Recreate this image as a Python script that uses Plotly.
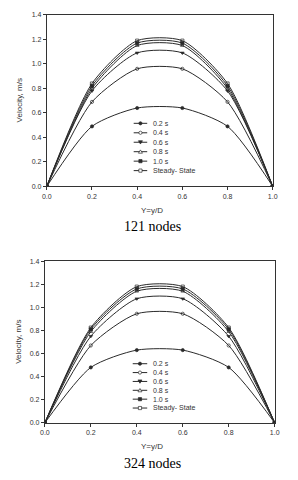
import plotly.graph_objects as go

# page body has an 8px default margin; figure is sized to fill the rest
OFF = 8
W, H = 298 - OFF, 480 - OFF

# ---------------- data ----------------
x_pos = [0.0, 0.2, 0.4, 0.6, 0.8, 1.0]
series_names = ["0.2 s", "0.4 s", "0.6 s", "0.8 s", "1.0 s", "Steady- State"]

# 121 nodes
n121_02 = [0, 0.49, 0.64, 0.64, 0.49, 0]
n121_04 = [0, 0.69, 0.96, 0.96, 0.69, 0]
n121_06 = [0, 0.78, 1.09, 1.09, 0.78, 0]
n121_08 = [0, 0.80, 1.15, 1.15, 0.80, 0]
n121_10 = [0, 0.82, 1.17, 1.17, 0.82, 0]
n121_ss = [0, 0.84, 1.19, 1.19, 0.84, 0]

# 324 nodes
n324_02 = [0, 0.48, 0.63, 0.63, 0.48, 0]
n324_04 = [0, 0.67, 0.945, 0.945, 0.67, 0]
n324_06 = [0, 0.75, 1.075, 1.075, 0.75, 0]
n324_08 = [0, 0.79, 1.14, 1.14, 0.79, 0]
n324_10 = [0, 0.81, 1.16, 1.16, 0.81, 0]
n324_ss = [0, 0.825, 1.18, 1.18, 0.825, 0]

x_ticks = [0.0, 0.2, 0.4, 0.6, 0.8, 1.0]
x_ticklabels = ["0.0", "0.2", "0.4", "0.6", "0.8", "1.0"]
y_ticks = [0.0, 0.2, 0.4, 0.6, 0.8, 1.0, 1.2, 1.4]
y_ticklabels = ["0.0", "0.2", "0.4", "0.6", "0.8", "1.0", "1.2", "1.4"]
captions = ["121 nodes", "324 nodes"]
x_title = "Y=y/D"
y_title = "Velocity, m/s"

# ---------------- styles ----------------
symbols = ["circle", "circle-open", "triangle-down", "triangle-up-open", "square", "square-open"]
LINE = "#2a2a2a"
TXT = "#333333"
FONT = "Liberation Sans, Arial, sans-serif"

def px_x(p):
    return (p - OFF) / W

def px_y(p):
    return 1 - (p - OFF) / H

# plot boxes in window pixels (left, right, top, bottom)
boxes = [(43, 277, 11, 185), (41, 279, 261, 425)]

fig = go.Figure()
groups = [
    [n121_02, n121_04, n121_06, n121_08, n121_10, n121_ss],
    [n324_02, n324_04, n324_06, n324_08, n324_10, n324_ss],
]
for gi, grp in enumerate(groups):
    xa = "x" if gi == 0 else "x2"
    ya = "y" if gi == 0 else "y2"
    for si, ys in enumerate(grp):
        fig.add_trace(go.Scatter(
            x=x_pos, y=ys, mode="lines+markers", name=series_names[si],
            xaxis=xa, yaxis=ya, showlegend=False,
            line=dict(color=LINE, width=1, shape="spline", smoothing=0.7),
            marker=dict(symbol=symbols[si], size=3.2, color=LINE,
                        line=dict(color=LINE, width=0.7)),
        ))

axis_common = dict(
    showgrid=False, zeroline=False, showline=True, linecolor="#333333", linewidth=1,
    mirror=True, ticks="outside", ticklen=3, tickcolor="#333333",
    tickfont=dict(family=FONT, size=7, color=TXT),
)
layout = dict(
    width=W, height=H, margin=dict(l=0, r=0, t=0, b=0),
    paper_bgcolor="white", plot_bgcolor="white", showlegend=False,
)
for gi, (l, r, t, b) in enumerate(boxes):
    sx = "" if gi == 0 else "2"
    layout["xaxis" + sx] = dict(axis_common, domain=[px_x(l), px_x(r)], range=[0, 1],
                                tickvals=x_ticks, ticktext=x_ticklabels,
                                anchor="y" + sx)
    layout["yaxis" + sx] = dict(axis_common, domain=[px_y(b), px_y(t)], range=[0, 1.4],
                                tickvals=y_ticks, ticktext=y_ticklabels,
                                anchor="x" + sx)
fig.update_layout(**layout)

annotations = []
shapes = []
title_pos = [dict(xt=152, yt=209, yl=15, cap=226), dict(xt=152, yt=449, yl=13, cap=466)]
for gi, (l, r, t, b) in enumerate(boxes):
    tp = title_pos[gi]
    annotations.append(dict(x=px_x(tp["xt"]), y=px_y(tp["yt"]), xref="paper", yref="paper",
                            text=x_title, showarrow=False, xanchor="center", yanchor="middle",
                            font=dict(family=FONT, size=8, color=TXT)))
    annotations.append(dict(x=px_x(tp["yl"]), y=px_y((t + b) / 2), xref="paper", yref="paper",
                            text=y_title, showarrow=False, textangle=-90,
                            xanchor="center", yanchor="middle",
                            font=dict(family=FONT, size=8, color=TXT)))
    annotations.append(dict(x=px_x(152), y=px_y(tp["cap"]), xref="paper", yref="paper",
                            text=captions[gi], showarrow=False, xanchor="center", yanchor="middle",
                            font=dict(family="Liberation Serif, Times New Roman, serif", size=14,
                                      color="black")))

# compact legends drawn as decorations
legend_rows = [dict(y0=121, dy=9.6, x0=133, x1=147), dict(y0=365, dy=9.0, x0=132, x1=147)]
for gi, lg in enumerate(legend_rows):
    for si, name in enumerate(series_names):
        yy = lg["y0"] + si * lg["dy"]
        shapes.append(dict(type="line", xref="paper", yref="paper",
                           x0=px_x(lg["x0"]), x1=px_x(lg["x1"]), y0=px_y(yy), y1=px_y(yy),
                           line=dict(color=LINE, width=1)))
        mx = (lg["x0"] + lg["x1"]) / 2
        filled = si in (0, 2, 4)
        fc = LINE if filled else "white"
        base = dict(xref="paper", yref="paper", xsizemode="pixel", ysizemode="pixel",
                    xanchor=px_x(mx), yanchor=px_y(yy), fillcolor=fc,
                    line=dict(color=LINE, width=0.7))
        sym = symbols[si]
        if sym.startswith("circle"):
            shapes.append(dict(base, type="circle", x0=-1.6, x1=1.6, y0=-1.6, y1=1.6))
        elif sym.startswith("square"):
            shapes.append(dict(base, type="rect", x0=-1.6, x1=1.6, y0=-1.6, y1=1.6))
        elif sym == "triangle-down":
            shapes.append(dict(base, type="path", path="M -2 1.5 L 2 1.5 L 0 -1.8 Z"))
        else:
            shapes.append(dict(base, type="path", path="M -2 -1.5 L 2 -1.5 L 0 1.8 Z"))
        annotations.append(dict(x=px_x(151), y=px_y(yy), xref="paper", yref="paper",
                                text=name, showarrow=False, xanchor="left", yanchor="middle",
                                font=dict(family=FONT, size=7, color=TXT)))

fig.update_layout(annotations=annotations, shapes=shapes)
fig.write_html("out.html")
